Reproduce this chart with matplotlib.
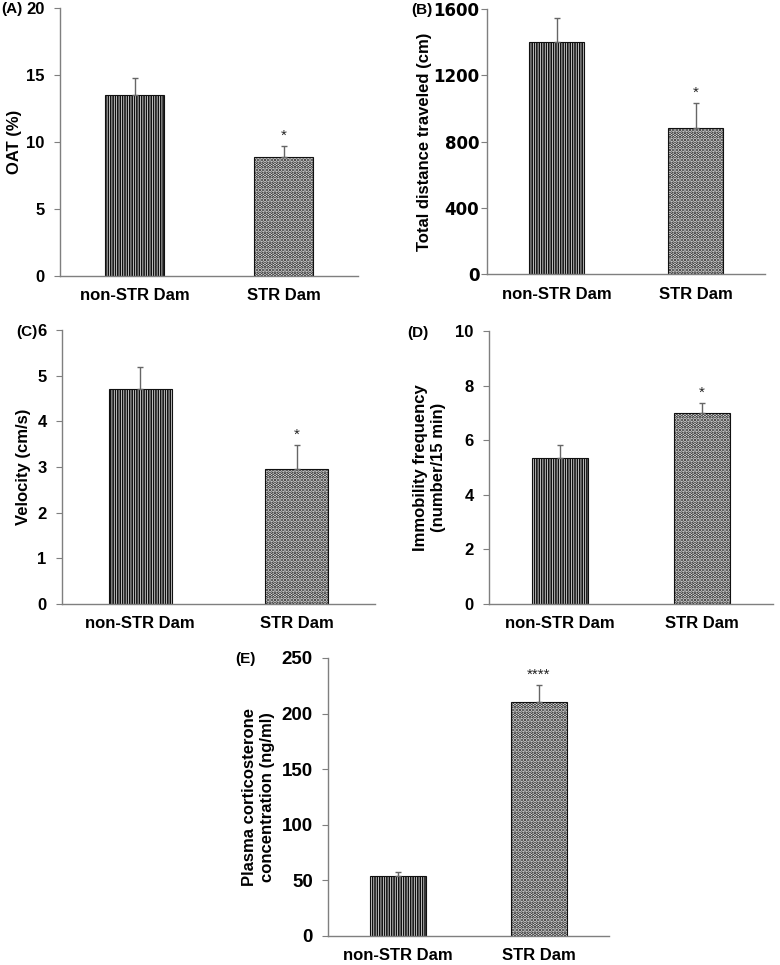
import matplotlib
matplotlib.use("Agg")
import matplotlib.pyplot as plt
import numpy as np

plt.rcParams['font.family'] = ['Liberation Sans', 'DejaVu Sans']
plt.rcParams['font.weight'] = 'bold'
plt.rcParams['hatch.linewidth'] = 1.0

categories = ["non-STR Dam", "STR Dam"]

oat_mean = [13.5, 8.9]
oat_err = [1.3, 0.8]
dist_mean = [1400, 880]
dist_err = [145, 155]
vel_mean = [4.7, 2.95]
vel_err = [0.5, 0.53]
immob_mean = [5.33, 7.0]
immob_err = [0.5, 0.37]
cort_mean = [54, 210]
cort_err = [4, 16]

panels = [
    dict(letter="(A)", mean=oat_mean, err=oat_err, ylim=(0, 20), ticks=[0, 5, 10, 15, 20],
         ylabel="OAT (%)", stars=["", "*"], rect=[60, 8, 358, 276], lpos=(1, 9), lpad=3,
         tfam="Liberation Sans", tsize=12, tpad=7),
    dict(letter="(B)", mean=dist_mean, err=dist_err, ylim=(0, 1600), ticks=[0, 400, 800, 1200, 1600],
         ylabel="Total distance traveled (cm)", stars=["", "*"], rect=[487, 9, 765, 274], lpos=(411, 10), lpad=1,
         tfam="DejaVu Sans", tsize=12, tpad=1.5),
    dict(letter="(C)", mean=vel_mean, err=vel_err, ylim=(0, 6), ticks=[0, 1, 2, 3, 4, 5, 6],
         ylabel="Velocity (cm/s)", stars=["", "*"], rect=[62, 330, 375, 604], lpos=(16, 332), lpad=4.5,
         tfam="Liberation Sans", tsize=12, tpad=7),
    dict(letter="(D)", mean=immob_mean, err=immob_err, ylim=(0, 10), ticks=[0, 2, 4, 6, 8, 10],
         ylabel="Immobility frequency\n(number/15 min)", stars=["", "*"], rect=[489, 331, 773, 604], lpos=(407, 333), lpad=7,
         tfam="Liberation Sans", tsize=12, tpad=7),
    dict(letter="(E)", mean=cort_mean, err=cort_err, ylim=(0, 250), ticks=[0, 50, 100, 150, 200, 250],
         ylabel="Plasma corticosterone\nconcentration (ng/ml)", stars=["", "****"], rect=[328, 658, 609, 936], lpos=(235, 659), lpad=5,
         tfam="Liberation Sans", tsize=13.5, tpad=7),
]

W, H = 780, 965
fig = plt.figure(figsize=(W / 100, H / 100), dpi=100)

hatches = ["|||||||", "....."]
hatch_lw = [1.2, 1.8]
axis_col = "#7f7f7f"

for p in panels:
    l, t, r, b = p["rect"]
    ax = fig.add_axes([l / W, 1 - b / H, (r - l) / W, (b - t) / H])
    x = np.arange(len(categories))
    for i in range(len(categories)):
        with plt.rc_context({'hatch.linewidth': hatch_lw[i]}):
            bars = ax.bar(x[i], p["mean"][i], width=0.4, color="white", edgecolor="#111111",
                          hatch=hatches[i], linewidth=0.8, zorder=2)
            for bb in bars:
                if hasattr(bb, "set_hatch_linewidth"):
                    bb.set_hatch_linewidth(hatch_lw[i])
    ax.errorbar(x, p["mean"], yerr=[np.zeros(len(x)), p["err"]], fmt="none",
                ecolor="#666666", elinewidth=1.0, capsize=2.5, capthick=1.0, zorder=3)
    rng = p["ylim"][1] - p["ylim"][0]
    for i, s in enumerate(p["stars"]):
        if s:
            ax.text(x[i], p["mean"][i] + p["err"][i] + rng * 0.012, s, ha="center", va="bottom",
                    fontsize=11, fontweight="normal", color="#222222")
    ax.set_xlim(-0.5, 1.5)
    ax.set_ylim(*p["ylim"])
    ax.set_yticks(p["ticks"])
    ax.set_yticklabels([str(v) for v in p["ticks"]], fontsize=p["tsize"], fontweight="bold",
                       family=[p["tfam"]])
    ax.set_xticks(x)
    ax.set_xticklabels(categories, fontsize=12, fontweight="bold")
    ax.tick_params(axis="x", length=0, pad=9)
    ax.tick_params(axis="y", length=4, width=0.8, color=axis_col, direction="out", pad=p["tpad"])
    for sp in ["top", "right"]:
        ax.spines[sp].set_visible(False)
    for sp in ["left", "bottom"]:
        ax.spines[sp].set_color(axis_col)
        ax.spines[sp].set_linewidth(1.0)
    ax.set_ylabel(p["ylabel"], fontsize=12, fontweight="bold", labelpad=p["lpad"])
    fig.text(p["lpos"][0] / W, 1 - p["lpos"][1] / H, p["letter"], fontsize=11,
             fontweight="bold", ha="left", va="center")

fig.savefig("out.png", dpi=100)
